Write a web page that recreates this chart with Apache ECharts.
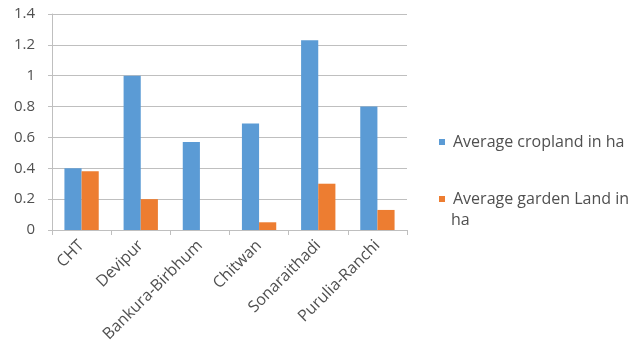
<!DOCTYPE html>
<html><head><meta charset="utf-8">
<script src="https://cdn.jsdelivr.net/npm/echarts@6/dist/echarts.min.js"></script>
<style>html,body{margin:0;padding:0;background:#fff}#c{width:637px;height:351px}</style>
</head><body><div id="c"></div>
<script>
const categories = ['CHT','Devipur','Bankura-Birbhum','Chitwan','Sonaraithadi','Purulia-Ranchi'];
const cropland = [0.40, 1.00, 0.57, 0.69, 1.23, 0.80];
const garden = [0.38, 0.20, 0, 0.05, 0.30, 0.13];
const yTicks = [0, 0.2, 0.4, 0.6, 0.8, 1, 1.2, 1.4];
const seriesNames = ['Average cropland in ha', 'Average garden Land in ha'];

const font = '"Open Sans", sans-serif';
const square = 'path://M0,0h1v1h-1z';
const chart = echarts.init(document.getElementById('c'));
chart.setOption({
  animation: false,
  grid: {left: 52, right: 230, top: 14, bottom: 121, containLabel: false},
  legend: [{
    data: [seriesNames[0]], left: 434, top: 129, itemWidth: 12, itemHeight: 6, icon: square,
    symbolKeepAspect: true,
    textStyle: {fontFamily: font, fontSize: 16, color: '#505050'}
  }, {
    data: [seriesNames[1]], left: 434, top: 186, itemWidth: 12, itemHeight: 6, icon: square,
    symbolKeepAspect: true,
    formatter: () => 'Average garden Land in',
    textStyle: {fontFamily: font, fontSize: 16, color: '#505050'}
  }],
  graphic: [{type: 'text', left: 451, top: 212, style: {text: 'ha', font: '16px ' + font, fill: '#505050'}}],
  xAxis: {
    type: 'category', data: categories,
    axisLine: {lineStyle: {color: '#BFBFBF'}},
    axisTick: {show: true, length: 5, lineStyle: {color: '#BFBFBF'}},
    axisLabel: {rotate: 45, interval: 0, fontFamily: font, fontSize: 16, color: '#505050', margin: 13}
  },
  yAxis: {
    type: 'value', min: 0, max: 1.4, interval: 0.2,
    axisLine: {show: true, lineStyle: {color: '#BFBFBF'}},
    axisTick: {show: true, length: 4, lineStyle: {color: '#BFBFBF'}},
    splitLine: {lineStyle: {color: '#BFBFBF'}},
    axisLabel: {fontFamily: font, fontSize: 15, color: '#505050', margin: 17,
      formatter: v => { const t = yTicks.find(x => Math.abs(x - v) < 1e-9); return t === undefined ? '' : String(t); }}
  },
  series: [
    {name: seriesNames[0], type: 'bar', data: cropland, itemStyle: {color: '#5B9BD5'}, barGap: '0%', barCategoryGap: '42%'},
    {name: seriesNames[1], type: 'bar', data: garden, itemStyle: {color: '#ED7D31'}}
  ]
});
</script></body></html>
